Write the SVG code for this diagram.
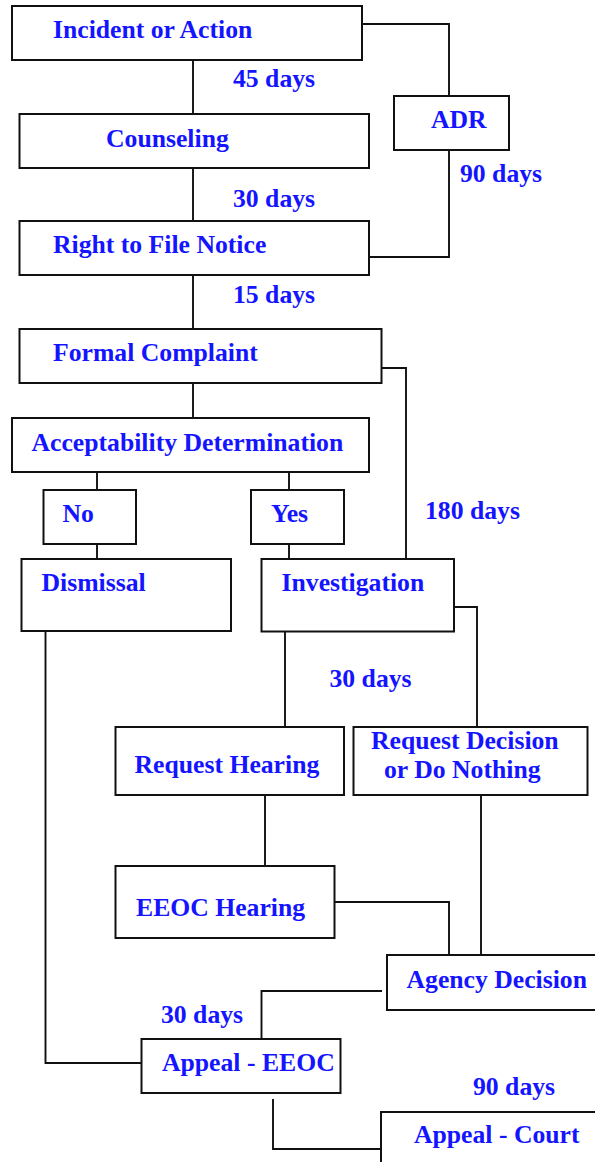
<svg xmlns="http://www.w3.org/2000/svg" width="595" height="1162" viewBox="0 0 595 1162">
<style>
rect{fill:#fff;stroke:#111;stroke-width:2}
.c path{fill:none;stroke:#111;stroke-width:1.9}
text{font-family:"Liberation Serif","Times New Roman",serif;font-weight:bold;font-size:25.7px;fill:#1414ff}
</style>
<rect x="0" y="0" width="595" height="1162" style="stroke:none"/>
<g class="c" id="connectors">
<path d="M193 60V114"/>
<path d="M193 168V221"/>
<path d="M193 275V329"/>
<path d="M362 24H449V96"/>
<path d="M449 150V257H369"/>
<path d="M193 383V418"/>
<path d="M97 472V490"/>
<path d="M97 544V562"/>
<path d="M289 472V490"/>
<path d="M289 544V562"/>
<path d="M381 368H406V559"/>
<path d="M454 607H477V727"/>
<path d="M285 632V727"/>
<path d="M45.5 631V1063H142"/>
<path d="M265 795V866"/>
<path d="M334 902H449V955"/>
<path d="M481 795V955"/>
<path d="M382 991H261.5V1039"/>
<path d="M273 1099V1149H381"/>
</g>
<g id="n-incident"><rect x="12" y="6" width="350" height="54"/><text x="53" y="38">Incident or Action</text></g>
<g id="n-counseling"><rect x="19.5" y="114" width="349.5" height="54"/><text x="106" y="147">Counseling</text></g>
<g id="n-right"><rect x="19.5" y="221" width="349.5" height="54"/><text x="53" y="253">Right to File Notice</text></g>
<g id="n-adr"><rect x="394" y="96" width="115" height="54"/><text x="431" y="128">ADR</text></g>
<g id="n-formal"><rect x="19.5" y="329" width="362" height="54"/><text x="53" y="361">Formal Complaint</text></g>
<g id="n-accept"><rect x="12" y="418" width="357" height="54"/><text x="31.5" y="451">Acceptability Determination</text></g>
<g id="n-no"><rect x="43.5" y="490" width="92.5" height="54"/><text x="62.5" y="522">No</text></g>
<g id="n-yes"><rect x="251" y="490" width="93" height="54"/><text x="271" y="522">Yes</text></g>
<g id="n-dismissal"><rect x="21.5" y="559" width="209.5" height="72"/><text x="41.5" y="591">Dismissal</text></g>
<g id="n-investigation"><rect x="261.5" y="559" width="192.5" height="72.5"/><text x="281.5" y="591">Investigation</text></g>
<g id="n-reqhearing"><rect x="115.5" y="727" width="228.5" height="68"/><text x="134.5" y="773">Request Hearing</text></g>
<g id="n-reqdecision"><rect x="353.5" y="727" width="234" height="68"/><text x="371" y="749">Request Decision</text><text x="384" y="778">or Do Nothing</text></g>
<g id="n-eeochearing"><rect x="115.5" y="866" width="219" height="72"/><text x="136" y="916">EEOC Hearing</text></g>
<g id="n-agency"><rect x="387" y="955" width="220" height="55"/><text x="406.5" y="988">Agency Decision</text></g>
<g id="n-appealeeoc"><rect x="141.5" y="1039" width="199" height="54"/><text x="162" y="1071">Appeal - EEOC</text></g>
<g id="n-appealcourt"><rect x="381" y="1112" width="226" height="60"/><text x="414" y="1143">Appeal - Court</text></g>
<g id="labels">
<text x="233" y="87">45 days</text>
<text x="233" y="207">30 days</text>
<text x="460" y="182">90 days</text>
<text x="233" y="303">15 days</text>
<text x="425" y="519">180 days</text>
<text x="329.5" y="687">30 days</text>
<text x="161" y="1023">30 days</text>
<text x="473" y="1095">90 days</text>
</g>
</svg>
